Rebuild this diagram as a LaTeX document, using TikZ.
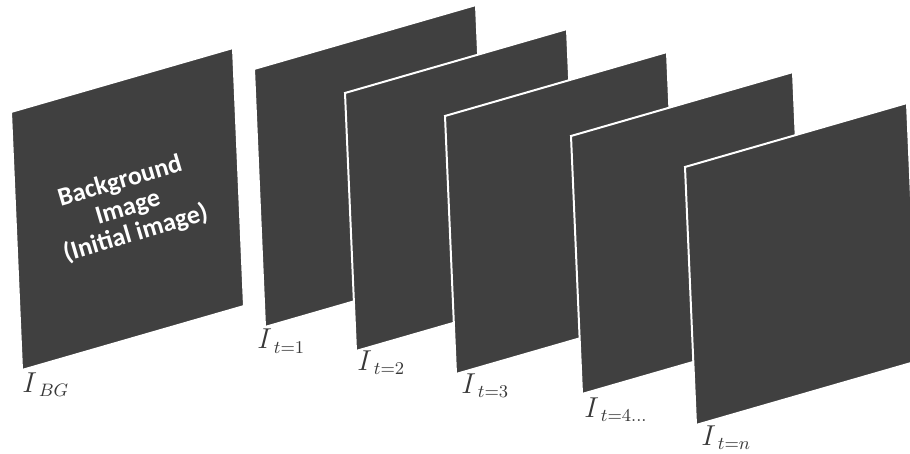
\documentclass[tikz,border=0pt]{standalone}
\usepackage{amsmath,amssymb}
\usepackage{fontspec}
\newfontfamily\carlito{Carlito}
\definecolor{slide}{HTML}{404040}
\newcommand{\framelabel}[1]{$I_{\hspace{2pt}#1}$}

\begin{document}
\begin{tikzpicture}[x=0.5pt, y=-0.5pt, frame/.style={fill=slide, draw=white, line width=1pt}, lbl/.style={anchor=base west, inner sep=0pt, text=black!78, font=\fontsize{13.5}{16}\selectfont}]
\clip (0,0) rectangle (910,454);
\foreach \n/\x/\y in {bg/11/112, t1/254/69, t2/345/93, t3/445/116, t4/571/136, tn/685/167}
  \draw[frame] (\x,\y) coordinate (\n) -- ++(222,-64) -- ++(11,258) -- ++(-222,64) -- cycle;
\node[rotate=16.5, text=white, align=center, font=\carlito\bfseries\fontsize{13}{13.6}\selectfont] (bgtext) at (128,208) {Background\\Image\\(Initial image)};
\node[lbl] (lbg) at (22,392) {\framelabel{BG}}; \node[lbl] (lt1) at (257,349) {\framelabel{t=1}};
\node[lbl] (lt2) at (357,370) {\framelabel{t=2}}; \node[lbl] (lt3) at (461,393) {\framelabel{t=3}};
\node[lbl] (lt4) at (584,417) {\framelabel{t=4\ldots}}; \node[lbl] (ltn) at (701,445) {\framelabel{t=n}};
\end{tikzpicture}
\end{document}
